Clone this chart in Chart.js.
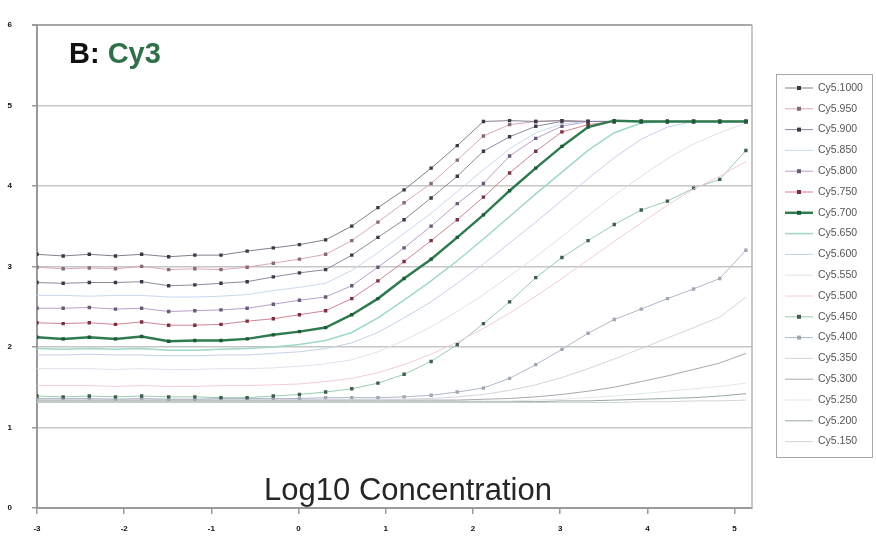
<!DOCTYPE html>
<html>
<head>
<meta charset="utf-8">
<script src="https://cdn.jsdelivr.net/npm/chart.js@4.4.1/dist/chart.umd.min.js"></script>
<style>
  html, body { margin: 0; padding: 0; background: #fff; }
  #wrap { width: 876px; height: 541px; position: relative; }
</style>
</head>
<body>
<div id="wrap"><canvas id="chart"></canvas></div>
<script>
// log10 concentration of each dilution step
const logConc = [-3.00, -2.70, -2.40, -2.10, -1.80, -1.49, -1.19, -0.89, -0.59, -0.29,
                 0.01, 0.31, 0.61, 0.91, 1.21, 1.52, 1.82, 2.12, 2.42, 2.72,
                 3.02, 3.32, 3.62, 3.93, 4.23, 4.53, 4.83, 5.13];

const seriesNames = ['Cy5.1000', 'Cy5.950', 'Cy5.900', 'Cy5.850', 'Cy5.800', 'Cy5.750',
                     'Cy5.700', 'Cy5.650', 'Cy5.600', 'Cy5.550', 'Cy5.500', 'Cy5.450',
                     'Cy5.400', 'Cy5.350', 'Cy5.300', 'Cy5.250', 'Cy5.200', 'Cy5.150'];

const cy5_1000 = [3.15, 3.13, 3.15, 3.13, 3.15, 3.12, 3.14, 3.14, 3.19, 3.23, 3.27, 3.33, 3.50, 3.73,
                  3.95, 4.22, 4.50, 4.80, 4.81, 4.80, 4.81, 4.80, 4.80, 4.80, 4.80, 4.80, 4.80, 4.80];
const cy5_950  = [2.99, 2.97, 2.98, 2.97, 3.00, 2.96, 2.97, 2.96, 2.99, 3.04, 3.09, 3.15, 3.32, 3.55,
                  3.79, 4.03, 4.32, 4.62, 4.76, 4.80, 4.81, 4.80, 4.80, 4.80, 4.80, 4.80, 4.80, 4.80];
const cy5_900  = [2.80, 2.79, 2.80, 2.80, 2.81, 2.76, 2.77, 2.79, 2.81, 2.87, 2.92, 2.96, 3.14, 3.36,
                  3.58, 3.85, 4.12, 4.43, 4.61, 4.74, 4.80, 4.80, 4.80, 4.80, 4.80, 4.80, 4.80, 4.80];
const cy5_850  = [2.64, 2.64, 2.63, 2.64, 2.64, 2.62, 2.62, 2.63, 2.65, 2.70, 2.74, 2.79, 2.95, 3.17,
                  3.41, 3.66, 3.93, 4.20, 4.46, 4.66, 4.77, 4.80, 4.80, 4.80, 4.80, 4.80, 4.80, 4.80];
const cy5_800  = [2.48, 2.48, 2.49, 2.47, 2.48, 2.44, 2.45, 2.46, 2.48, 2.53, 2.58, 2.62, 2.76, 2.99,
                  3.23, 3.50, 3.78, 4.03, 4.37, 4.59, 4.74, 4.80, 4.80, 4.80, 4.80, 4.80, 4.80, 4.80];
const cy5_750  = [2.30, 2.29, 2.30, 2.28, 2.31, 2.27, 2.27, 2.28, 2.32, 2.35, 2.40, 2.45, 2.60, 2.82,
                  3.06, 3.32, 3.58, 3.86, 4.16, 4.43, 4.67, 4.76, 4.80, 4.80, 4.80, 4.80, 4.80, 4.80];
const cy5_700  = [2.12, 2.10, 2.12, 2.10, 2.13, 2.07, 2.08, 2.08, 2.10, 2.15, 2.19, 2.24, 2.40, 2.60,
                  2.85, 3.09, 3.36, 3.64, 3.94, 4.22, 4.49, 4.73, 4.81, 4.80, 4.80, 4.80, 4.80, 4.80];
const cy5_650  = [1.98, 1.97, 1.98, 1.97, 1.98, 1.96, 1.96, 1.97, 1.98, 2.00, 2.03, 2.08, 2.18, 2.36,
                  2.58, 2.82, 3.07, 3.34, 3.62, 3.90, 4.17, 4.44, 4.66, 4.78, 4.80, 4.80, 4.80, 4.80];
const cy5_600  = [1.90, 1.90, 1.91, 1.90, 1.90, 1.89, 1.89, 1.90, 1.90, 1.92, 1.94, 1.98, 2.05, 2.18,
                  2.36, 2.56, 2.79, 3.03, 3.29, 3.55, 3.82, 4.09, 4.35, 4.58, 4.73, 4.80, 4.80, 4.80];
const cy5_550  = [1.73, 1.73, 1.73, 1.72, 1.73, 1.72, 1.72, 1.73, 1.73, 1.74, 1.76, 1.79, 1.84, 1.94,
                  2.08, 2.25, 2.44, 2.65, 2.88, 3.12, 3.37, 3.63, 3.88, 4.12, 4.34, 4.52, 4.66, 4.78];
const cy5_500  = [1.52, 1.52, 1.52, 1.51, 1.52, 1.51, 1.51, 1.52, 1.52, 1.53, 1.54, 1.57, 1.61, 1.68,
                  1.78, 1.91, 2.06, 2.23, 2.42, 2.63, 2.85, 3.08, 3.31, 3.54, 3.76, 3.96, 4.12, 4.30];
const cy5_450  = [1.39, 1.38, 1.39, 1.38, 1.39, 1.38, 1.38, 1.37, 1.37, 1.39, 1.41, 1.44, 1.48, 1.55,
                  1.66, 1.82, 2.03, 2.29, 2.56, 2.86, 3.11, 3.32, 3.52, 3.70, 3.81, 3.97, 4.08, 4.44];
const cy5_400  = [1.36, 1.36, 1.36, 1.35, 1.36, 1.35, 1.35, 1.36, 1.36, 1.36, 1.36, 1.37, 1.37, 1.37,
                  1.38, 1.40, 1.44, 1.49, 1.61, 1.78, 1.97, 2.17, 2.34, 2.47, 2.60, 2.72, 2.85, 3.20];
const cy5_350  = [1.35, 1.35, 1.35, 1.35, 1.35, 1.35, 1.35, 1.35, 1.35, 1.35, 1.35, 1.35, 1.35, 1.35,
                  1.35, 1.36, 1.38, 1.41, 1.46, 1.53, 1.62, 1.73, 1.85, 1.98, 2.11, 2.24, 2.37, 2.62];
const cy5_300  = [1.34, 1.34, 1.34, 1.34, 1.34, 1.34, 1.34, 1.34, 1.34, 1.34, 1.34, 1.34, 1.34, 1.34,
                  1.34, 1.34, 1.34, 1.35, 1.36, 1.38, 1.41, 1.45, 1.50, 1.57, 1.64, 1.72, 1.80, 1.92];
const cy5_250  = [1.33, 1.33, 1.33, 1.33, 1.33, 1.33, 1.33, 1.33, 1.33, 1.33, 1.33, 1.33, 1.33, 1.33,
                  1.33, 1.33, 1.33, 1.33, 1.33, 1.34, 1.35, 1.37, 1.39, 1.42, 1.45, 1.48, 1.51, 1.55];
const cy5_200  = [1.32, 1.32, 1.32, 1.32, 1.32, 1.32, 1.32, 1.32, 1.32, 1.32, 1.32, 1.32, 1.32, 1.32,
                  1.32, 1.32, 1.32, 1.32, 1.32, 1.32, 1.33, 1.33, 1.34, 1.35, 1.36, 1.37, 1.39, 1.42];
const cy5_150  = [1.31, 1.31, 1.31, 1.31, 1.31, 1.31, 1.31, 1.31, 1.31, 1.31, 1.31, 1.31, 1.31, 1.31,
                  1.31, 1.31, 1.31, 1.31, 1.31, 1.31, 1.31, 1.31, 1.31, 1.32, 1.32, 1.33, 1.33, 1.34];

const yTicks = [0, 1, 2, 3, 4, 5, 6];
const xTicks = [-3, -2, -1, 0, 1, 2, 3, 4, 5];

const allSeries = [cy5_1000, cy5_950, cy5_900, cy5_850, cy5_800, cy5_750, cy5_700, cy5_650, cy5_600,
                   cy5_550, cy5_500, cy5_450, cy5_400, cy5_350, cy5_300, cy5_250, cy5_200, cy5_150];

// line colour, marker colour (null = no marker), line width
const looks = [
  ['#80808e', '#3a3a44', 1],
  ['#d8a8bc', '#8a6a78', 1],
  ['#8c8c9a', '#3a3a4a', 1],
  ['#c8d8ee', null, 1],
  ['#b8a0c8', '#6a5a7a', 1],
  ['#d08494', '#7a3040', 1],
  ['#2f7a4f', '#1e5a38', 2.5],
  ['#9fd8c8', null, 1.5],
  ['#c5d0e8', null, 1],
  ['#e0e0ec', null, 1],
  ['#f0ccd8', null, 1],
  ['#9ccbb0', '#3e5e4e', 1],
  ['#b0b8c8', '#a0a8b4', 1],
  ['#d4d4dc', null, 1],
  ['#a8a8b0', null, 1],
  ['#e0e8ea', null, 1],
  ['#98a8a0', null, 1],
  ['#d0d6d0', null, 1]
];

const datasets = allSeries.map((vals, k) => ({
  label: seriesNames[k],
  data: vals.map((v, i) => ({ x: logConc[i], y: v })),
  borderColor: looks[k][0],
  borderWidth: looks[k][2],
  pointRadius: looks[k][1] ? 2.4 : 0,
  pointStyle: 'rect',
  pointBackgroundColor: looks[k][1] || looks[k][0],
  pointBorderColor: looks[k][1] || looks[k][0],
  pointBorderWidth: 0,
  tension: 0,
  order: k === 6 ? -1 : 0
}));

const decorations = {
  id: 'decorations',
  afterDraw(chart) {
    const ctx = chart.ctx;
    const a = chart.chartArea;
    ctx.save();
    // right frame of the plot
    ctx.strokeStyle = '#b4b4b4';
    ctx.lineWidth = 1.5;
    ctx.beginPath();
    ctx.moveTo(a.right, a.top);
    ctx.lineTo(a.right, a.bottom);
    ctx.stroke();

    // panel title
    ctx.font = 'bold 29px "Liberation Sans", Arial, sans-serif';
    ctx.textBaseline = 'alphabetic';
    ctx.textAlign = 'left';
    ctx.fillStyle = '#111';
    ctx.fillText('B:', 69, 63);
    const w = ctx.measureText('B: ').width;
    ctx.fillStyle = '#2f7048';
    ctx.fillText('Cy3', 69 + w, 63);

    // axis title inside the plot
    ctx.font = '31px "Liberation Sans", Arial, sans-serif';
    ctx.fillStyle = '#262626';
    ctx.textAlign = 'center';
    ctx.fillText('Log10 Concentration', 408, 500);

    // boxed legend
    const lx = 776, ly = 74, lw = 96, lh = 383;
    ctx.strokeStyle = '#a8a8a8';
    ctx.lineWidth = 1;
    ctx.strokeRect(lx + 0.5, ly + 0.5, lw, lh);
    ctx.font = '10.5px "Liberation Sans", Arial, sans-serif';
    ctx.textAlign = 'left';
    ctx.textBaseline = 'middle';
    chart.data.datasets.forEach((ds, k) => {
      const y = 88 + k * 20.8;
      ctx.strokeStyle = ds.borderColor;
      ctx.lineWidth = ds.borderWidth;
      ctx.beginPath();
      ctx.moveTo(785, y);
      ctx.lineTo(813, y);
      ctx.stroke();
      if (ds.pointRadius > 0) {
        ctx.fillStyle = ds.pointBackgroundColor;
        ctx.fillRect(797, y - 2, 4, 4);
      }
      ctx.fillStyle = '#555';
      ctx.fillText(ds.label, 818, y);
    });
    ctx.restore();
  }
};

new Chart(document.getElementById('chart'), {
  type: 'line',
  data: { datasets },
  plugins: [decorations],
  options: {
    responsive: true,
    maintainAspectRatio: false,
    animation: false,
    layout: { padding: { top: 20, right: 124, left: 0, bottom: 0 } },
    plugins: {
      legend: { display: false },
      tooltip: { enabled: false }
    },
    scales: {
      x: {
        type: 'linear',
        min: -3,
        max: 5.2,
        afterFit: s => { s.height = 33; },
        afterBuildTicks: s => { s.ticks = xTicks.map(v => ({ value: v })); },
        grid: { color: 'rgba(0,0,0,0)', tickColor: '#9a9a9a', tickLength: 6, lineWidth: 1.5 },
        border: { color: '#9a9a9a', width: 2 },
        ticks: {
          padding: 10,
          color: '#111',
          font: { family: '"Liberation Sans", Arial, sans-serif', size: 8, weight: 'bold' },
          maxRotation: 0
        }
      },
      y: {
        type: 'linear',
        min: 0,
        max: 6,
        afterFit: s => { s.width = 37; },
        afterBuildTicks: s => { s.ticks = yTicks.map(v => ({ value: v })); },
        grid: {
          color: c => (c.tick && c.tick.value === 0) ? 'rgba(0,0,0,0)' : (c.tick && c.tick.value === 6 ? '#a8a8a8' : '#c6c6c6'),
          lineWidth: c => (c.tick && c.tick.value === 6) ? 2 : 1.5,
          tickColor: '#9a9a9a',
          tickLength: 5
        },
        border: { color: '#9a9a9a', width: 2 },
        ticks: {
          padding: 20,
          color: '#111',
          font: { family: '"Liberation Sans", Arial, sans-serif', size: 8, weight: 'bold' }
        }
      }
    }
  }
});
</script>
</body>
</html>
